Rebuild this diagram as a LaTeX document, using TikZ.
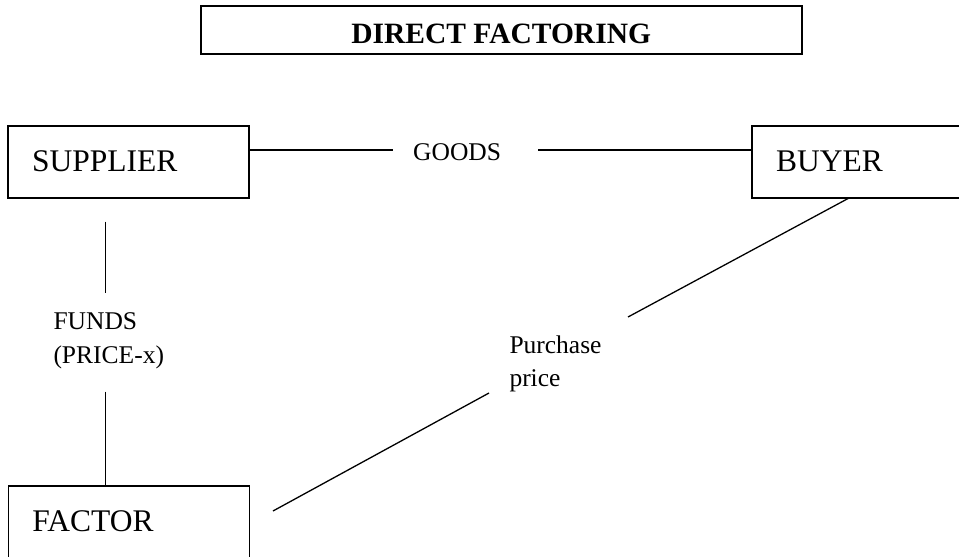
\documentclass[tikz,border=0pt]{standalone}
\usepackage{fontspec}
\setmainfont{Liberation Serif}
\usepackage{tikz}

\begin{document}
\begin{tikzpicture}[x=1pt,y=-1pt,
    box/.style={draw,line width=1.5pt,minimum width=241pt,minimum height=72pt,
      inner xsep=24pt,text width=193pt,align=left,text height=18.5pt,text depth=0pt,
      font=\fontsize{31.5}{34}\selectfont},
    lbl/.style={inner sep=0pt,anchor=base west,align=left,
      font=\fontsize{25.5}{33.6}\selectfont},
    link/.style={line width=1.3pt}]
    \useasboundingbox (0,0) rectangle (959,557);
    \clip (0,0) rectangle (959,557);

    % Title
    \node[draw,line width=1.6pt,minimum width=601pt,minimum height=48pt,
      text height=26pt,text depth=0pt,font=\fontsize{29.5}{30}\selectfont\bfseries]
      (title) at (501.2,30) {DIRECT FACTORING};

    % Parties
    \node[box] (supplier) at (128.7,162) {SUPPLIER};
    \node[box] (buyer) at (872.5,162) {BUYER};
    \node[box] (factor) at (128.8,522) {FACTOR};

    % Labels (base = last line)
    \node[lbl] (goods) at (413,160.7) {GOODS};
    \node[lbl] (funds) at (53.3,363) {FUNDS\\(PRICE-x)};
    \node[lbl] (price) at (509.3,386.7) {Purchase\\price};

    % Gaps round the labels
    \coordinate (g1) at (392.7,150);
    \coordinate (g2) at (538,150);
    \coordinate (f1) at (105.3,221.7);
    \coordinate (f2) at (105.3,293);
    \coordinate (f3) at (105.3,391.7);
    \coordinate (p1) at (849,198);
    \coordinate (p2) at (628,317);
    \coordinate (p3) at (489,393);
    \coordinate (p4) at (273,511);

    % Connectors
    \draw[link] (supplier.east |- g1) -- (g1);
    \draw[link] (g2) -- (buyer.west |- g2);
    \draw[link] (f1) -- (f2);
    \draw[link] (f3) -- (f3 |- factor.north);
    \draw[link] (p1) -- (p2);
    \draw[link] (p3) -- (p4);
\end{tikzpicture}
\end{document}
